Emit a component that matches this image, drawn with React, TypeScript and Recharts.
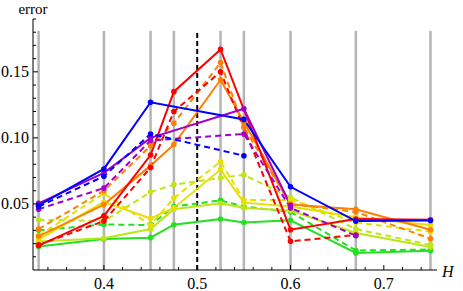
import React from 'react';
import { LineChart, Line, XAxis, YAxis, ReferenceLine } from 'recharts';

// H values where the errors were measured
const hValues = [0.33, 0.4, 0.45, 0.475, 0.525, 0.55, 0.6, 0.67, 0.75];
const gridLines = [0.33, 0.4, 0.45, 0.475, 0.525, 0.55, 0.6, 0.67, 0.75];
const criticalH = 0.5;
const gridTop = 0.181;

// error values per series (null = not measured)
const blueSolid = [0.049, 0.0765, 0.127, null, null, 0.114, 0.063, 0.037, 0.0375];
const blueDashed = [0.048, 0.071, 0.103, null, null, 0.0865, null, null, null];
const purpleSolid = [0.0505, 0.0735, 0.1, null, null, 0.122, 0.049, null, null];
const purpleDashed = [0.046, 0.062, 0.098, null, null, 0.103, 0.047, 0.026, null];
const redSolid = [0.0185, 0.041, 0.087, 0.135, 0.167, null, 0.0305, 0.0386, 0.038];
const redDashed = [0.019, 0.037, 0.0775, 0.12, 0.15, null, 0.0217, 0.0265, null];
const orangeSolid = [0.0255, 0.0495, 0.079, 0.095, 0.144, 0.112, 0.0495, 0.046, 0.0305];
const orangeDashed = [0.031, 0.06, 0.094, 0.111, 0.157, 0.108, 0.05, 0.044, 0.0237];
const yellowSolid = [0.023, 0.0515, 0.039, 0.047, 0.076, 0.051, 0.048, 0.04, 0.034];
const yellowDashed = [0.026, 0.058, 0.034, 0.0545, 0.082, 0.053, 0.053, 0.036, 0.029];
const limeSolid = [0.0215, 0.024, 0.031, 0.046, 0.0505, 0.047, 0.045, 0.028, 0.0174];
const limeDashed = [0.038, 0.037, 0.059, 0.0646, 0.0697, 0.072, 0.055, 0.031, 0.019];
const greenSolid = [0.0178, 0.0235, 0.0245, 0.0343, 0.0386, 0.036, 0.0376, 0.0129, 0.0146];
const greenDashed = [0.03, 0.0345, 0.034, 0.048, 0.0527, 0.048, 0.044, 0.0148, 0.0155];

// ticks
const xMajorTicks = [0.4, 0.5, 0.6, 0.7];
const xMinorTicks = [0.34, 0.36, 0.38, 0.42, 0.44, 0.46, 0.48, 0.52, 0.54, 0.56, 0.58, 0.62, 0.64, 0.66, 0.68, 0.72, 0.74];
const yMajorTicks = [0.05, 0.1, 0.15];
const yMinorTicks = [0.01, 0.02, 0.03, 0.04, 0.06, 0.07, 0.08, 0.09, 0.11, 0.12, 0.13, 0.14, 0.16, 0.17, 0.18, 0.19];

const series = [
    { key: 'greenSolid', values: greenSolid, color: '#22e022', dashed: false },
    { key: 'greenDashed', values: greenDashed, color: '#22e022', dashed: true },
    { key: 'limeSolid', values: limeSolid, color: '#bde619', dashed: false },
    { key: 'limeDashed', values: limeDashed, color: '#bde619', dashed: true },
    { key: 'yellowSolid', values: yellowSolid, color: '#e6e000', dashed: false },
    { key: 'yellowDashed', values: yellowDashed, color: '#e6e000', dashed: true },
    { key: 'orangeSolid', values: orangeSolid, color: '#ff8000', dashed: false },
    { key: 'orangeDashed', values: orangeDashed, color: '#ff8000', dashed: true },
    { key: 'redSolid', values: redSolid, color: '#ff0000', dashed: false },
    { key: 'redDashed', values: redDashed, color: '#ff0000', dashed: true },
    { key: 'purpleSolid', values: purpleSolid, color: '#a000c8', dashed: false },
    { key: 'purpleDashed', values: purpleDashed, color: '#a000c8', dashed: true },
    { key: 'blueSolid', values: blueSolid, color: '#0000ff', dashed: false },
    { key: 'blueDashed', values: blueDashed, color: '#0000ff', dashed: true },
];

const data = hValues.map((h, i) => {
    const row: Record<string, number | null> = { h };
    series.forEach((s) => {
        row[s.key] = s.values[i];
    });
    return row;
});

const FONT = '"Liberation Serif", "Times New Roman", serif';
const isIn = (list: number[], v: number) => list.some((t) => Math.abs(t - v) < 1e-6);

const XTick = (props: any) => {
    const { x, y, payload } = props;
    const major = isIn(xMajorTicks, payload.value);
    return (
        <g>
            <line x1={x} y1={y} x2={x} y2={y - (major ? 5 : 3)} stroke="#000" strokeWidth={1} />
            {major && (
                <text x={x} y={y + 19} textAnchor="middle" fontFamily={FONT} fontSize={16} fill="#000">
                    {payload.value.toFixed(1)}
                </text>
            )}
        </g>
    );
};

const YTick = (props: any) => {
    const { x, y, payload } = props;
    const major = isIn(yMajorTicks, payload.value);
    return (
        <g>
            <line x1={x} y1={y} x2={x + (major ? 5 : 3)} y2={y} stroke="#000" strokeWidth={1} />
            {major && (
                <text x={x - 4} y={y + 5} textAnchor="end" fontFamily={FONT} fontSize={16} fill="#000">
                    {payload.value.toFixed(2)}
                </text>
            )}
        </g>
    );
};

export default function App() {
    return (
        <div style={{ position: 'absolute', left: 0, top: 0, width: 463, height: 291, background: '#fff' }}>
            <LineChart
                width={463}
                height={291}
                data={data}
                margin={{ top: 19, right: 26, bottom: 0, left: 0 }}
            >
                <XAxis
                    type="number"
                    dataKey="h"
                    domain={[0.324, 0.757]}
                    ticks={[...xMinorTicks, ...xMajorTicks]}
                    interval={0}
                    tick={<XTick />}
                    tickLine={false}
                    tickSize={0}
                    tickMargin={0}
                    axisLine={{ stroke: '#000' }}
                    allowDataOverflow
                    height={21}
                />
                <YAxis
                    type="number"
                    domain={[0, 0.19]}
                    ticks={[...yMinorTicks, ...yMajorTicks]}
                    interval={0}
                    tick={<YTick />}
                    tickLine={false}
                    tickSize={0}
                    tickMargin={0}
                    axisLine={{ stroke: '#000' }}
                    allowDataOverflow
                    width={33}
                />
                {gridLines.map((h) => (
                    <ReferenceLine
                        key={h}
                        segment={[{ x: h, y: 0 }, { x: h, y: gridTop }]}
                        stroke="#b4b4b4"
                        strokeWidth={2.5}
                    />
                ))}
                <ReferenceLine
                    segment={[{ x: criticalH, y: 0 }, { x: criticalH, y: gridTop }]}
                    stroke="#000"
                    strokeWidth={2}
                    strokeDasharray="5 3"
                />
                {series.map((s) => (
                    <Line
                        key={s.key}
                        dataKey={s.key}
                        type="linear"
                        stroke={s.color}
                        strokeWidth={2}
                        strokeDasharray={s.dashed ? '6 4' : undefined}
                        dot={{ r: 2.8, fill: s.color, stroke: s.color, strokeWidth: 0 }}
                        activeDot={false}
                        connectNulls
                        isAnimationActive={false}
                    />
                ))}
            </LineChart>
            <svg width={463} height={291} style={{ position: 'absolute', left: 0, top: 0, pointerEvents: 'none' }}>
                <text x={33} y={13.5} textAnchor="middle" fontFamily={FONT} fontSize={15} fill="#000">
                    error
                </text>
                <text x={442} y={277} fontFamily={FONT} fontSize={16} fontStyle="italic" fill="#000">
                    H
                </text>
            </svg>
        </div>
    );
}
